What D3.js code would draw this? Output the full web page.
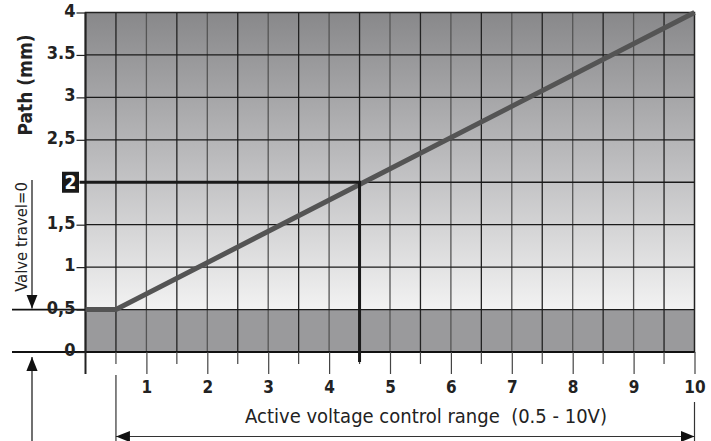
<!DOCTYPE html>
<html><head><meta charset="utf-8">
<script src="https://cdn.jsdelivr.net/npm/d3@7"></script>
<style>
body{margin:0;background:#fff;}
text{font-family:"DejaVu Sans Condensed","Liberation Sans",sans-serif;}
</style></head>
<body><svg id="c" width="711" height="441"></svg>
<script>
const xTicks = [1,2,3,4,5,6,7,8,9,10];
const yTicks = [0,0.5,1,1.5,2.5,3,3.5,4];
const yTickLabels = ["0","0,5","1","1,5","2,5","3","3.5","4"];
const curveX = [0, 0.5, 10];
const curveY = [0.5, 0.5, 4];
const markerX = 4.5, markerY = 2, markerLabel = "2";
const deadBand = 0.5;
const xTitle = "Active voltage control range  (0.5 - 10V)";
const yTitle = "Path (mm)";
const sideLabel = "Valve travel=0";

const svg = d3.select("#c");
const x = d3.scaleLinear().domain([0,10]).range([85.5,694.5]);
const y = d3.scaleLinear().domain([0,4]).range([352,12.5]);

const defs = svg.append("defs");
const g = defs.append("linearGradient").attr("id","bg").attr("x1",0).attr("y1",0).attr("x2",0).attr("y2",1);
g.append("stop").attr("offset","0%").attr("stop-color","#88888a");
g.append("stop").attr("offset","50%").attr("stop-color","#bcbcbe");
g.append("stop").attr("offset","100%").attr("stop-color","#f2f2f2");
defs.append("marker").attr("id","ah").attr("viewBox","0 0 10 10").attr("refX",10).attr("refY",5)
  .attr("markerWidth",14).attr("markerHeight",14).attr("markerUnits","userSpaceOnUse").attr("orient","auto-start-reverse")
  .append("path").attr("d","M0,1 L10,5 L0,9 Z").attr("fill","#111");

// backgrounds
svg.append("rect").attr("x",x(0)).attr("y",y(4)).attr("width",x(10)-x(0)).attr("height",y(deadBand)-y(4)).attr("fill","url(#bg)");
svg.append("rect").attr("x",x(0)).attr("y",y(deadBand)).attr("width",x(10)-x(0)).attr("height",y(0)-y(deadBand)).attr("fill","#9a9a9c");

// grid
const gx = d3.range(0.5,10,0.5);
svg.append("g").selectAll("line").data(gx).join("line")
  .attr("x1",d=>x(d)).attr("x2",d=>x(d)).attr("y1",y(4)).attr("y2",y(0))
  .attr("stroke",d=>Number.isInteger(d)?"#555":"#222").attr("stroke-width",1.3);
const gy = d3.range(0.5,4,0.5);
svg.append("g").selectAll("line").data(gy).join("line")
  .attr("x1",x(0)).attr("x2",x(10)).attr("y1",d=>y(d)).attr("y2",d=>y(d))
  .attr("stroke","#1a1a1a").attr("stroke-width",1.3);
// border
svg.append("rect").attr("x",x(0)).attr("y",y(4)).attr("width",x(10)-x(0)).attr("height",y(0)-y(4))
  .attr("fill","none").attr("stroke","#222").attr("stroke-width",1.5);

// extended lines at 0 and 0.5
svg.append("line").attr("x1",12).attr("x2",x(10)).attr("y1",y(0)).attr("y2",y(0)).attr("stroke","#111").attr("stroke-width",2);
svg.append("line").attr("x1",12).attr("x2",x(0)).attr("y1",y(deadBand)).attr("y2",y(deadBand)).attr("stroke","#111").attr("stroke-width",1.8);

// y axis
const yAxis = d3.axisLeft(y).tickValues(yTicks).tickFormat((d,i)=>yTickLabels[i]).tickSize(9).tickPadding(1);
const ya = svg.append("g").attr("transform",`translate(${x(0)},0)`).call(yAxis);
ya.select(".domain").remove();
ya.selectAll(".tick line").attr("stroke","#222").attr("stroke-width",1.2);
ya.selectAll(".tick text").attr("font-size",18).attr("font-weight","bold").attr("fill","#222")
  .attr("font-family",'"DejaVu Sans Condensed",sans-serif').attr("dy","0.2em");
svg.append("line").attr("x1",x(0)).attr("x2",x(0)).attr("y1",y(4)).attr("y2",374).attr("stroke","#222").attr("stroke-width",2);

// x axis ticks
const xa = d3.axisBottom(x).tickValues(xTicks).tickSize(22).tickPadding(7);
const xg = svg.append("g").attr("transform",`translate(0,${y(0)})`).call(xa);
xg.select(".domain").remove();
xg.selectAll(".tick line").attr("stroke","#444").attr("stroke-width",1.2);
xg.selectAll(".tick text").attr("font-size",17).attr("font-weight","bold").attr("fill","#222")
  .attr("font-family",'"DejaVu Sans Condensed",sans-serif');
svg.append("g").selectAll("line").data(d3.range(0.5,10,1)).join("line")
  .attr("x1",d=>x(d)).attr("x2",d=>x(d)).attr("y1",y(0)).attr("y2",y(0)+12).attr("stroke","#444").attr("stroke-width",1.2);

// curve
svg.append("path").datum(curveX.map((d,i)=>[d,curveY[i]]))
  .attr("d",d3.line().x(d=>x(d[0])).y(d=>y(d[1])))
  .attr("fill","none").attr("stroke","#545454").attr("stroke-width",5);

// marker lines
svg.append("path").attr("d",`M${x(0)-6},${y(markerY)} H${x(markerX)} V${y(0)+10}`)
  .attr("fill","none").attr("stroke","#1a1a1a").attr("stroke-width",3);
svg.append("rect").attr("x",62).attr("y",y(markerY)-10.5).attr("width",17).attr("height",21).attr("fill","#1a1a1a");
svg.append("text").attr("x",70.5).attr("y",y(markerY)+7).attr("text-anchor","middle").attr("fill","#fff")
  .attr("font-size",19).attr("font-weight","bold").text(markerLabel);

// titles
svg.append("text").attr("transform",`translate(32,85) rotate(-90)`).attr("text-anchor","middle")
  .attr("font-size",19).attr("font-weight","bold").attr("fill","#222").text(yTitle);
svg.append("text").attr("transform",`translate(27,237) rotate(-90)`).attr("text-anchor","middle")
  .attr("font-size",16.5).attr("fill","#222").text(sideLabel);

// side arrows
svg.append("line").attr("x1",32).attr("x2",32).attr("y1",180).attr("y2",y(deadBand)-1).attr("stroke","#111").attr("stroke-width",1.2).attr("marker-end","url(#ah)");
svg.append("line").attr("x1",32).attr("x2",32).attr("y1",441).attr("y2",y(0)+5).attr("stroke","#111").attr("stroke-width",1.2).attr("marker-end","url(#ah)");

// bottom range bracket
svg.append("line").attr("x1",x(0.5)).attr("x2",x(0.5)).attr("y1",375).attr("y2",441).attr("stroke","#333").attr("stroke-width",1.2);
svg.append("line").attr("x1",x(10)).attr("x2",x(10)).attr("y1",402).attr("y2",441).attr("stroke","#333").attr("stroke-width",1.2);
svg.append("line").attr("x1",x(0.5)).attr("x2",x(10)).attr("y1",436.5).attr("y2",436.5).attr("stroke","#333").attr("stroke-width",1.2)
  .attr("marker-start","url(#ah)").attr("marker-end","url(#ah)");
svg.append("text").attr("x",426).attr("y",423).attr("text-anchor","middle").attr("font-size",20).attr("fill","#222")
  .attr("xml:space","preserve").style("white-space","pre").text(xTitle);
</script></body></html>
